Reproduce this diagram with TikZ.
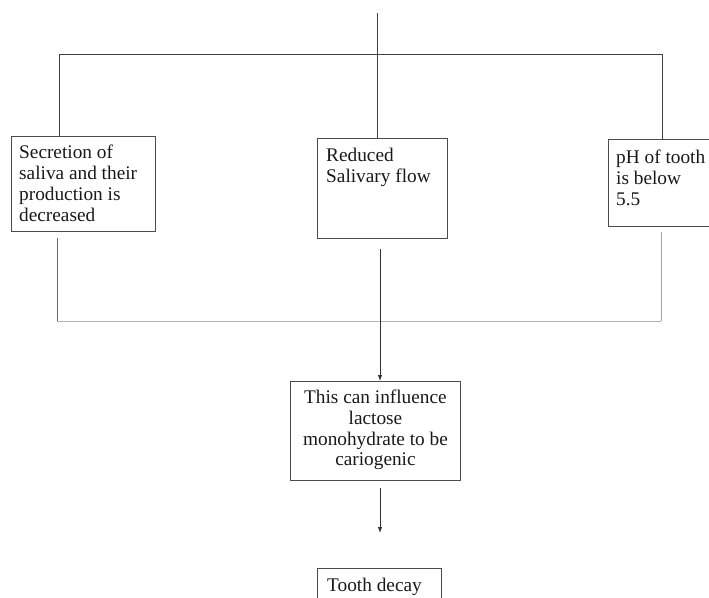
\documentclass[tikz,border=0pt]{standalone}
\usepackage{fontspec}
\setmainfont{Liberation Serif}
\usetikzlibrary{arrows.meta,calc}
\begin{document}
\begin{tikzpicture}[x=1pt,y=1pt,
  boxshape/.style={draw=black!70,line width=0.9pt,anchor=north west,inner sep=0pt},
  boxtext/.style={anchor=north west,inner sep=0pt,text=black!90,font=\fontsize{19.3}{20.8}\selectfont},
  topline/.style={draw=black!75,line width=0.9pt},
  lowline/.style={draw=black!45,line width=0.9pt},
  arrowline/.style={draw=black!80,line width=0.9pt,-{Latex[length=6pt,width=4.5pt]}}]
\useasboundingbox (0,0) rectangle (709,-597);
\clip (0,0) rectangle (709,-597);
% boxes
\node[boxshape,minimum width=144,minimum height=95] (b1) at (11,-136) {};
\node[boxtext,align=left] (t1) at ([xshift=8,yshift=-9]b1.north west) {Secretion of\\saliva and their\\production is\\decreased};
\node[boxshape,minimum width=130,minimum height=100] (b2) at (317,-138) {};
\node[boxtext,align=left] (t2) at ([xshift=9,yshift=-10]b2.north west) {Reduced\\Salivary flow};
\node[boxshape,minimum width=110,minimum height=87] (b3) at (608,-139) {};
\node[boxtext,align=left] (t3) at ([xshift=8,yshift=-11]b3.north west) {pH of tooth\\is below\\5.5};
\node[boxshape,minimum width=170,minimum height=99] (b4) at (290,-381) {};
\node[boxtext,align=center,anchor=center] (t4) at ([yshift=1]b4.center) {This can influence\\lactose\\monohydrate to be\\cariogenic};
\node[boxshape,minimum width=124,minimum height=60] (b5) at (317,-568) {};
\node[boxtext,align=left] (t5) at ([xshift=10,yshift=-10]b5.north west) {Tooth decay};
% coordinates
\coordinate (top) at (377,-13);
\coordinate (hM) at (377,-54);
\coordinate (hL) at (59,-54);
\coordinate (hR) at (662,-54);
\coordinate (c1) at (57,-238);
\coordinate (c2) at (380,-249);
\coordinate (c3) at (661,-232);
\coordinate (lL) at (57,-321);
\coordinate (lR) at (661,-321);
\coordinate (c4) at (380,-488);
\coordinate (c5) at (380,-533);
% top connectors
\draw[topline] (top) -- (hM);
\draw[topline] (hL) -- (hR);
\draw[topline] (hL) -- (hL |- b1.north);
\draw[topline] (hM) -- (hM |- b2.north);
\draw[topline] (hR) -- (hR |- b3.north);
% lower connectors
\draw[lowline,draw=black!60] (c1) -- (lL);
\draw[lowline,draw=black!35] (c3) -- (lR);
\draw[lowline,draw=black!30] (lL) -- (lR);
\draw[arrowline] (c2) -- (c2 |- b4.north);
\draw[arrowline] (c4) -- (c5);
\end{tikzpicture}
\end{document}
